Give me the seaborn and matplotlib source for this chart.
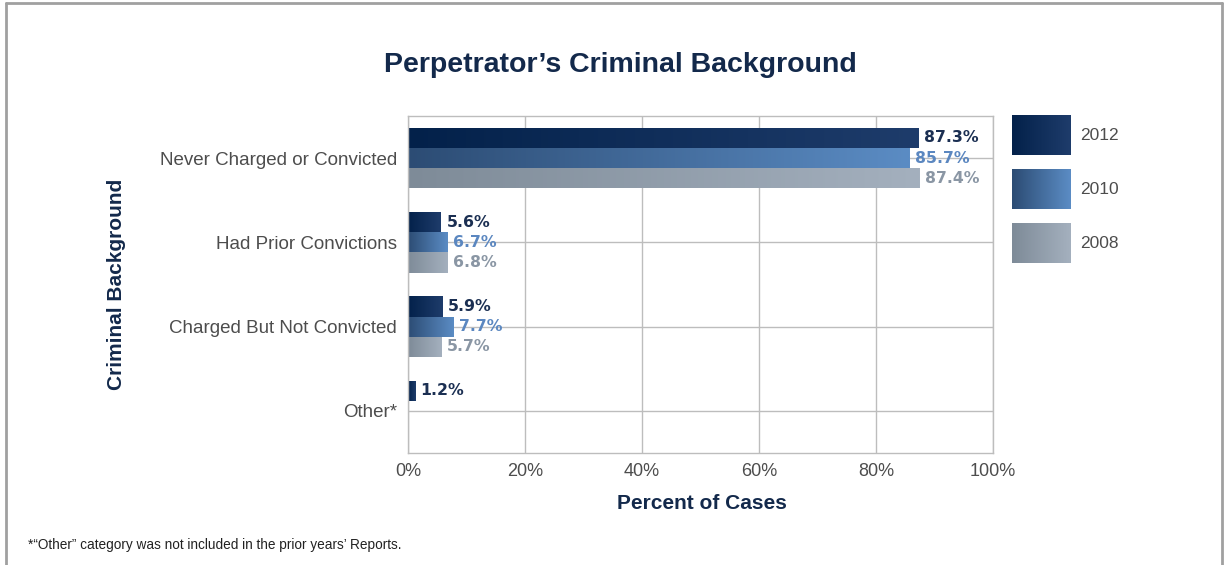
import numpy as np
import pandas as pd
import matplotlib
matplotlib.use("Agg")
import matplotlib.pyplot as plt
from matplotlib.colors import LinearSegmentedColormap
from matplotlib.lines import Line2D
import seaborn as sns

# data
categories = ["Never Charged or Convicted", "Had Prior Convictions",
              "Charged But Not Convicted", "Other*"]
years = ["2012", "2010", "2008"]
pct_2012 = [87.3, 5.6, 5.9, 1.2]
pct_2010 = [85.7, 6.7, 7.7, np.nan]
pct_2008 = [87.4, 6.8, 5.7, np.nan]

# gradient start/end colours per year, and the label colours
grad = {"2012": ("#03214a", "#1e3c6b"),
        "2010": ("#2c4c74", "#5b8cc4"),
        "2008": ("#7e8b98", "#a4b0be")}
label_col = {"2012": "#1b2f52", "2010": "#5b87c0", "2008": "#8a96a4"}
navy = "#13294b"
grey_txt = "#4d4d4d"

df = pd.DataFrame({"category": categories * 3,
                   "year": np.repeat(years, len(categories)),
                   "pct": pct_2012 + pct_2010 + pct_2008}).dropna()

sns.set_style("white")
plt.rcParams["font.family"] = ["Liberation Sans", "DejaVu Sans"]

W, H = 1228, 565
fig = plt.figure(figsize=(W / 100, H / 100), dpi=100)
ax = fig.add_axes([408 / W, 1 - 453 / H, 585 / W, 337 / H])

sns.barplot(data=df, y="category", x="pct", hue="year", order=categories,
            hue_order=years, orient="h", width=0.72, dodge=True,
            palette=[grad[y][0] for y in years], legend=False, ax=ax,
            saturation=1)

# gradient fill clipped to every bar
for cont, yr in zip(ax.containers, years):
    cmap = LinearSegmentedColormap.from_list(yr, grad[yr])
    for p in cont:
        x0, y0, w, h = p.get_x(), p.get_y(), p.get_width(), p.get_height()
        if not np.isfinite(w) or w == 0:
            continue
        p.set_facecolor("none")
        p.set_edgecolor("none")
        im = ax.imshow(np.linspace(0, 1, 256).reshape(1, -1), cmap=cmap,
                       extent=[x0, x0 + w, y0 + h, y0], aspect="auto",
                       interpolation="bilinear", zorder=2)
        im.set_clip_path(p)
    ax.bar_label(cont, labels=[f"{v:.1f}%" for v in cont.datavalues],
                 padding=4, color=label_col[yr], fontsize=11.3,
                 fontweight="bold", family="DejaVu Sans", zorder=3)

ax.set_xlim(0, 100)
ax.set_ylim(3.5, -0.5)
ax.set_xticks(np.arange(0, 101, 20))
ax.set_xticklabels([f"{t}%" for t in range(0, 101, 20)])
ax.tick_params(axis="both", length=0, labelcolor=grey_txt)
ax.tick_params(axis="x", pad=7, labelsize=13)
ax.tick_params(axis="y", pad=8, labelsize=13.5)
ax.grid(True, color="#bdbdbd", lw=1)
ax.set_axisbelow(True)
for s in ax.spines.values():
    s.set_color("#bdbdbd")
    s.set_linewidth(1)

ax.set_xlabel("Percent of Cases", fontsize=15, fontweight="bold", color=navy)
ax.xaxis.set_label_coords(0.5026, -0.122)
ax.set_ylabel("Criminal Background", fontsize=15, fontweight="bold", color=navy)
ax.yaxis.set_label_coords(-0.482, 0.5)

fig.text(620 / W, 1 - 65 / H, "Perpetrator\u2019s Criminal Background",
         ha="center", va="center", fontsize=20.5, fontweight="bold", color=navy)

# legend drawn in a pixel-space overlay axes
lax = fig.add_axes([0, 0, 1, 1], zorder=-1)
lax.axis("off")
for i, yr in enumerate(years):
    top = 115 + i * 54
    cmap = LinearSegmentedColormap.from_list(yr + "L", grad[yr])
    lax.imshow(np.linspace(0, 1, 64).reshape(1, -1), cmap=cmap,
               extent=[1012, 1071, top + 40, top], aspect="auto",
               interpolation="bilinear")
    lax.text(1080, top + 20, yr, va="center", ha="left", fontsize=12.5,
             color=grey_txt)
lax.set_xlim(0, W)
lax.set_ylim(H, 0)

fig.text(28 / W, 1 - 545 / H,
         "*\u201cOther\u201d category was not included in the prior years\u2019 Reports.",
         fontsize=9.8, color="#222222", va="center")

# outer frame
frame = dict(color="#a0a0a0", lw=2, transform=fig.transFigure)
fig.lines.append(Line2D([6 / W, 6 / W], [0, 1 - 3 / H], **frame))
fig.lines.append(Line2D([6 / W, 1222 / W], [1 - 3 / H, 1 - 3 / H], **frame))
fig.lines.append(Line2D([1222 / W, 1222 / W], [0, 1 - 3 / H], **frame))

fig.savefig("out.png", dpi=100)
